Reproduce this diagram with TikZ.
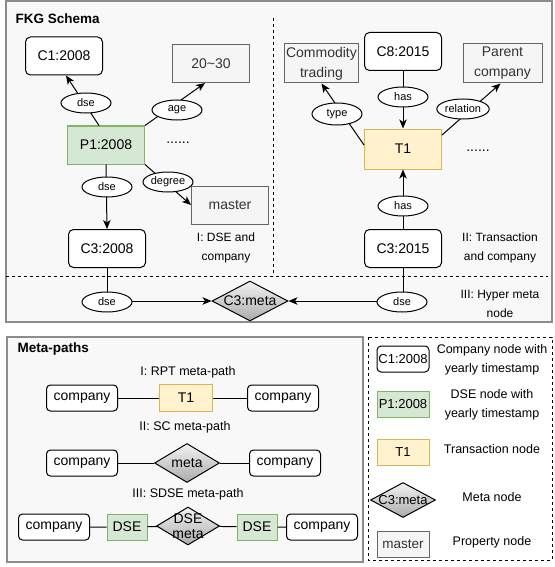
\documentclass[tikz,border=0pt]{standalone}
\usepackage{fontspec}
\setmainfont{Liberation Sans}
\usetikzlibrary{arrows.meta,shapes.geometric}
\definecolor{grnF}{HTML}{D5E8D4}
\definecolor{grnD}{HTML}{82B366}
\definecolor{yelF}{HTML}{FFF2CC}
\definecolor{yelD}{HTML}{D6B656}
\definecolor{prF}{HTML}{F5F5F5}
\definecolor{prD}{HTML}{666666}
\definecolor{prT}{HTML}{333333}
\definecolor{panelF}{HTML}{F8F8F8}
\definecolor{panelD}{HTML}{8C8C8C}
\definecolor{diaT}{HTML}{F2F2F2}
\definecolor{diaB}{HTML}{ABABAB}
\tikzset{
  fbig/.style={font=\fontsize{14}{20}\selectfont},
  fmid/.style={font=\fontsize{13}{15}\selectfont},
  fsml/.style={font=\fontsize{11}{13}\selectfont},
  fside/.style={font=\fontsize{12}{19}\selectfont, align=center},
  fleg/.style={font=\fontsize{12.5}{19}\selectfont, align=center},
  ftitle/.style={font=\bfseries\fontsize{13.5}{16}\selectfont, anchor=west},
  panel/.style={draw=panelD, fill=panelF, line width=1.2pt},
  sep/.style={dash pattern=on 3pt off 3pt, line width=0.9pt},
  base/.style={inner sep=1pt, line width=1pt},
  cbox/.style={base, draw, fill=white, rounded corners=5pt},
  gbox/.style={base, draw=grnD, fill=grnF},
  ybox/.style={base, draw=yelD, fill=yelF},
  pbox/.style={base, draw=prD, fill=prF, text=prT},
  bigsz/.style={minimum width=77pt, minimum height=38pt, fbig},
  rowsz/.style={minimum width=71pt, minimum height=26pt, fbig},
  legsz/.style={minimum width=52pt, minimum height=26pt, fmid},
  lbl/.style={ellipse, draw, fill=white, line width=1pt, minimum width=50pt, minimum height=20pt, inner sep=0.5pt, fsml},
  dia/.style={diamond, draw, line width=1pt, top color=diaT, bottom color=diaB, inner sep=0pt},
  arr/.style={-{Stealth[length=9pt,width=7.5pt,inset=2.5pt]}, line width=1pt},
  ln/.style={line width=1pt}
}
\begin{document}
\begin{tikzpicture}[x=1pt,y=-1pt]
\useasboundingbox (0,0) rectangle (554,567);
% panels
\draw[panel] (6,1) rectangle (552,322);
\draw[panel] (7,337) rectangle (363,562);
\draw[sep] (368,337) rectangle (552,560);
\draw[sep] (273,18) -- (273,276);
\draw[sep] (6,276) -- (548,276);

% ---------- FKG schema ----------
\node[ftitle] (title1) at (12,19) {FKG Schema};

\node[cbox, bigsz] (C1) at (64,56) {C1:2008};
\node[pbox, bigsz] (age) at (211,63.5) {20\textasciitilde 30};
\node[gbox, bigsz] (P1) at (106,145) {P1:2008};
\node[pbox, bigsz] (master) at (230,205) {master};
\node[cbox, bigsz] (C3a) at (107,248.5) {C3:2008};
\node[fbig] (dots1) at (178,143) {......};
\node[fside] (secI) at (226,248) {I: DSE and\\company};

\node[pbox, minimum width=74pt, minimum height=39pt, fbig, align=center, inner sep=0pt] (comm) at (321.5,63.5) {Commodity\\trading};
\node[cbox, bigsz] (C8) at (403,51.5) {C8:2015};
\node[pbox, minimum width=79pt, minimum height=39pt, fbig, align=center] (par) at (502.5,63.5) {Parent\\company};
\node[ybox, bigsz, minimum height=40pt] (T1) at (403,149) {T1};
\node[cbox, bigsz] (C3b) at (403,248.5) {C3:2015};
\node[fbig] (dots2) at (478,151) {......};
\node[fside] (secII) at (500,248) {II: Transaction\\and company};

\node[dia, minimum width=76pt, minimum height=40pt] (meta) at (250,301) {};
\node[fbig] (metatxt) at (meta) {C3:meta};
\node[fside] (secIII) at (500,304) {III: Hyper meta\\node};

% edges
\draw[arr] ([xshift=-7pt]P1.north) -- ([xshift=2pt]C1.south);
\draw[arr] (P1.north east) -- ([xshift=-6pt]age.south);
\draw[arr] (P1.south east) -- (master.west);
\draw[arr] (P1.south) -- (C3a.north);
\draw[arr] (C8.south) -- (T1.north);
\draw[arr] ([yshift=4pt]T1.west) -- (comm.south);
\draw[arr] ([yshift=14pt]T1.east) -- ([xshift=-2pt]par.south);
\draw[arr] (C3b.north) -- (T1.south);
\draw[arr] (C3a.south) |- (meta.west);
\draw[arr] (C3b.south) |- (meta.east);

\node[lbl] (l1) at (86,103) {dse};
\node[lbl] (l2) at (177,110) {age};
\node[lbl] (l3) at (107,187) {dse};
\node[lbl] (l4) at (168,182) {degree};
\node[lbl, minimum height=22pt] (l5) at (337,114) {type};
\node[lbl] (l6) at (403,97) {has};
\node[lbl] (l7) at (463,109) {relation};
\node[lbl] (l8) at (403,206) {has};
\node[lbl] (l9) at (107,302) {dse};
\node[lbl] (l10) at (402,302) {dse};

% ---------- Meta-paths ----------
\node[ftitle] (title2) at (14,349) {Meta-paths};
\node[fleg] (h1) at (188,372) {I: RPT meta-path};
\node[fleg] (h2) at (185,427) {II: SC meta-path};
\node[fleg] (h3) at (188,494) {III: SDSE meta-path};

\node[cbox, rowsz, rounded corners=4pt] (r1a) at (82,398) {company};
\node[ybox, minimum width=53pt, minimum height=27pt, fbig] (r1b) at (186,398) {T1};
\node[cbox, rowsz, rounded corners=4pt] (r1c) at (283,398) {company};
\draw[ln] (r1a) -- (r1b) -- (r1c);

\node[cbox, rowsz, rounded corners=4pt] (r2a) at (82,463) {company};
\node[dia, minimum width=65pt, minimum height=39pt] (r2b) at (187,463) {};
\node[fbig] (r2bt) at (r2b) {meta};
\node[cbox, rowsz, rounded corners=4pt] (r2c) at (285,463) {company};
\draw[ln] (r2a) -- (r2b) -- (r2c);

\node[cbox, rowsz, rounded corners=4pt] (r3a) at (54,527) {company};
\node[gbox, minimum width=40pt, minimum height=26pt, fbig] (r3b) at (127,527) {DSE};
\node[dia, minimum width=63pt, minimum height=38pt] (r3c) at (188,526) {};
\node[font=\fontsize{14}{15}\selectfont, align=center] (r3ct) at (r3c) {DSE\\meta};
\node[gbox, minimum width=40pt, minimum height=26pt, fbig] (r3d) at (257,527) {DSE};
\node[cbox, rowsz, rounded corners=4pt] (r3e) at (322,527) {company};
\draw[ln] (r3a) -- (r3b) -- (r3c) -- (r3d) -- (r3e);

% ---------- Legend ----------
\node[cbox, legsz, rounded corners=4pt, inner sep=0pt] (g1) at (403,359) {C1:2008};
\node[fleg] (g1t) at (492,360) {Company node with\\yearly timestamp};
\node[gbox, legsz, inner sep=0pt] (g2) at (403,404) {P1:2008};
\node[fleg] (g2t) at (492,405) {DSE node with\\yearly timestamp};
\node[ybox, legsz] (g3) at (403,452) {T1};
\node[fleg] (g3t) at (492,449) {Transaction node};
\node[dia, minimum width=65pt, minimum height=35pt] (g4) at (403,500) {};
\node[fmid] (g4x) at (g4) {C3:meta};
\node[fleg] (g4t) at (492,497) {Meta node};
\node[pbox, legsz, font=\fontsize{13.5}{15}\selectfont] (g5) at (403,544) {master};
\node[fleg] (g5t) at (492,542) {Property node};
\end{tikzpicture}
\end{document}
